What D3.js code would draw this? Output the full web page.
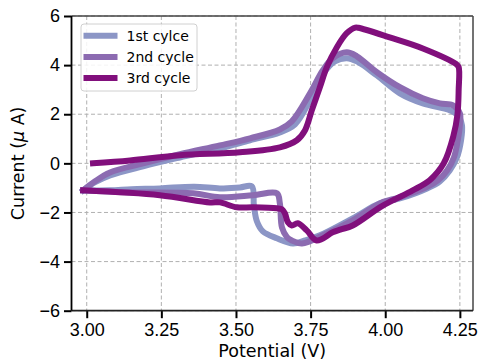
<!DOCTYPE html>
<html lang="en">
<head>
  <meta charset="UTF-8">
  <title>CV cycles</title>
  <script src="https://cdn.jsdelivr.net/npm/d3@7/dist/d3.min.js"></script>
  <style>
    body { margin: 0; background: #fff; }
    svg { font-family: "DejaVu Sans", sans-serif; }
    .grid line { stroke: #b0b0b0; stroke-width: 1; stroke-dasharray: 4 2.5; }
    .tick text { font-size: 18px; fill: #000; }
  </style>
</head>
<body>
  <svg id="chart"></svg>
  <script>

  // potential (V), current (uA)
  var cycle1V = [2.988, 3.028, 3.078, 3.189, 3.312, 3.446, 3.547, 3.647, 3.698, 3.748, 3.791, 3.831, 3.871, 3.905, 3.972, 4.049, 4.126, 4.216, 4.243, 4.257, 4.254, 4.240, 4.216, 4.183, 4.140, 4.049, 3.982, 3.891, 3.781, 3.731, 3.691, 3.637, 3.590, 3.570, 3.560, 3.553, 3.513, 3.446, 3.360, 3.245, 3.150, 3.078, 2.988];
  var cycle1I = [-1.10, -0.77, -0.49, -0.12, 0.24, 0.61, 0.94, 1.26, 1.59, 2.57, 3.63, 4.15, 4.28, 4.15, 3.58, 2.85, 2.44, 2.16, 1.96, 1.55, 0.94, 0.24, -0.29, -0.73, -1.02, -1.43, -1.63, -2.24, -2.93, -3.14, -3.26, -3.05, -2.77, -2.36, -1.71, -0.94, -0.98, -1.02, -0.95, -1.02, -1.05, -1.10, -1.10];

  var cycle2V = [2.988, 3.028, 3.078, 3.189, 3.312, 3.446, 3.547, 3.647, 3.687, 3.748, 3.791, 3.824, 3.871, 3.905, 3.972, 4.049, 4.126, 4.183, 4.227, 4.250, 4.250, 4.243, 4.230, 4.207, 4.177, 4.137, 4.049, 3.982, 3.891, 3.798, 3.721, 3.687, 3.671, 3.654, 3.647, 3.637, 3.557, 3.446, 3.357, 3.135, 2.988];
  var cycle2I = [-1.10, -0.73, -0.37, 0.00, 0.37, 0.73, 1.02, 1.38, 1.71, 2.85, 3.79, 4.28, 4.52, 4.36, 3.71, 3.10, 2.65, 2.44, 2.36, 2.04, 1.55, 0.94, 0.24, -0.29, -0.69, -0.98, -1.38, -1.63, -2.32, -2.89, -3.26, -3.14, -3.01, -2.61, -1.63, -1.22, -1.30, -1.38, -1.22, -1.18, -1.10];

  var cycle3V = [3.021, 3.145, 3.312, 3.513, 3.647, 3.704, 3.731, 3.754, 3.781, 3.804, 3.838, 3.871, 3.900, 3.910, 4.015, 4.126, 4.238, 4.246, 4.246, 4.242, 4.228, 4.196, 4.149, 4.092, 4.025, 3.982, 3.891, 3.849, 3.824, 3.770, 3.737, 3.707, 3.687, 3.674, 3.664, 3.654, 3.637, 3.557, 3.503, 3.446, 3.413, 3.245, 2.988];
  var cycle3I = [0.00, 0.12, 0.33, 0.45, 0.65, 0.94, 1.34, 2.16, 3.10, 3.91, 4.73, 5.30, 5.53, 5.52, 5.13, 4.68, 4.04, 3.92, 3.00, 2.00, 1.10, 0.00, -0.69, -1.10, -1.51, -1.79, -2.53, -2.70, -2.81, -3.14, -2.73, -2.44, -2.53, -2.40, -2.04, -1.87, -1.83, -1.79, -1.79, -1.59, -1.59, -1.30, -1.10];

  var seriesNames = ["1st cylce", "2nd cycle", "3rd cycle"];
  var seriesColors = ["#8c96c6", "#8c6bb1", "#810f7c"];
  var xTicks = [3.00, 3.25, 3.50, 3.75, 4.00, 4.25];
  var yTicks = [-6, -4, -2, 0, 2, 4, 6];

  var W = 481, H = 360,
    padL = 71.5, padR = 473, padT = 16, padB = 310.7;

  var svg = d3.select("#chart").attr("width", W).attr("height", H);

  var x = d3.scaleLinear().domain([2.949, 4.294]).range([padL, padR]);
  var y = d3.scaleLinear().domain([-6, 6]).range([padB, padT]);

  // grid
  var grid = svg.append("g").attr("class", "grid");
  grid.selectAll("line.vx").data(xTicks).enter().append("line")
    .attr("x1", d => x(d)).attr("x2", d => x(d))
    .attr("y1", padT).attr("y2", padB);
  grid.selectAll("line.hy").data(yTicks).enter().append("line")
    .attr("x1", padL).attr("x2", padR)
    .attr("y1", d => y(d)).attr("y2", d => y(d));

  // curves
  var line = d3.line()
    .x(d => x(d[0])).y(d => y(d[1]))
    .curve(d3.curveCatmullRom.alpha(0.5));

  var cycles = [[cycle1V, cycle1I], [cycle2V, cycle2I], [cycle3V, cycle3I]];
  var plot = svg.append("g");
  cycles.forEach(function(c, i) {
    var pts = c[0].map((v, k) => [v, c[1][k]]);
    plot.append("path")
      .attr("d", line(pts))
      .attr("fill", "none")
      .attr("stroke", seriesColors[i])
      .attr("stroke-width", 6)
      .attr("stroke-linejoin", "round")
      .attr("stroke-linecap", "square");
  });

  // axes
  var fmtY = d => (d < 0 ? "\u2212" + Math.abs(d) : "" + d);
  var xAxis = d3.axisBottom(x).tickValues(xTicks).tickFormat(d3.format(".2f"))
    .tickSize(7.5).tickPadding(5);
  var yAxis = d3.axisLeft(y).tickValues(yTicks).tickFormat(fmtY)
    .tickSize(7.5).tickPadding(4);

  var gx = svg.append("g").attr("transform", "translate(0," + padB + ")").call(xAxis);
  var gy = svg.append("g").attr("transform", "translate(" + padL + ",0)").call(yAxis);
  [gx, gy].forEach(function(g) {
    g.select(".domain").remove();
    g.selectAll(".tick line").attr("stroke", "#000").attr("stroke-width", 2);
  });

  // frame
  svg.append("line").attr("x1", padL).attr("x2", padR).attr("y1", padT).attr("y2", padT)
    .attr("stroke", "#444").attr("stroke-width", 1.5);
  svg.append("line").attr("x1", padR).attr("x2", padR).attr("y1", padT).attr("y2", padB)
    .attr("stroke", "#444").attr("stroke-width", 1.5);
  svg.append("line").attr("x1", padL).attr("x2", padR).attr("y1", padB).attr("y2", padB)
    .attr("stroke", "#222").attr("stroke-width", 1.8);
  svg.append("line").attr("x1", padL).attr("x2", padL).attr("y1", padT).attr("y2", padB)
    .attr("stroke", "#000").attr("stroke-width", 1.8);

  // axis labels
  svg.append("text")
    .attr("x", (padL + padR) / 2).attr("y", 357)
    .attr("text-anchor", "middle").attr("font-size", 17.5)
    .text("Potential (V)");

  var yl = svg.append("text")
    .attr("transform", "translate(24," + ((padT + padB) / 2) + ")rotate(-90)")
    .attr("text-anchor", "middle").attr("font-size", 17.5);
  yl.append("tspan").text("Current (");
  yl.append("tspan").attr("font-style", "italic").text("\u03bc");
  yl.append("tspan").text(" A)");

  // legend
  var lg = svg.append("g").attr("transform", "translate(81,24)");
  lg.append("rect")
    .attr("width", 116).attr("height", 67).attr("rx", 3)
    .attr("fill", "#fff").attr("fill-opacity", 0.85)
    .attr("stroke", "#d0d0d0").attr("stroke-width", 1);
  seriesNames.forEach(function(name, i) {
    var row = lg.append("g").attr("transform", "translate(0," + (11.7 + i * 21.2) + ")");
    row.append("line").attr("x1", 2.5).attr("x2", 36.5)
      .attr("stroke", seriesColors[i]).attr("stroke-width", 6);
    row.append("text").attr("x", 45.5).attr("y", 5)
      .attr("font-size", 14).text(name);
  });

  </script>
</body>
</html>
